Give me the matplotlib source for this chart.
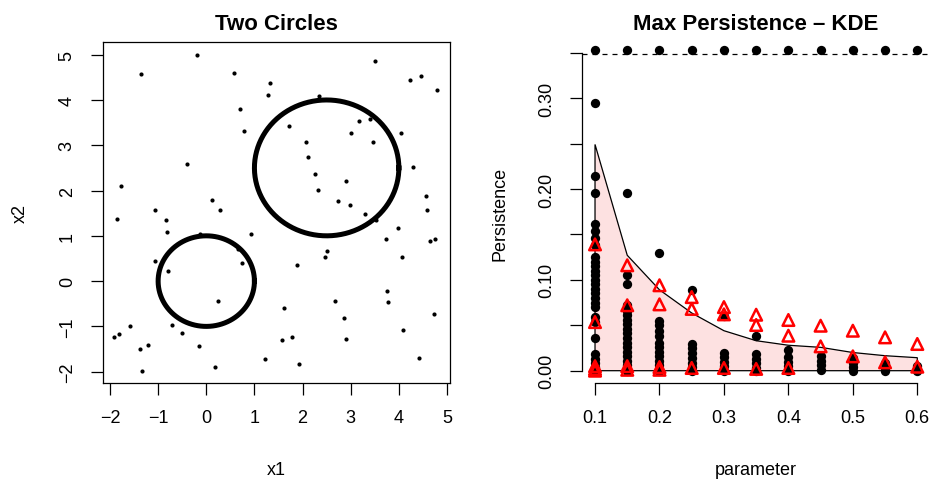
import matplotlib
matplotlib.use("Agg")
import matplotlib.pyplot as plt
import numpy as np

plt.rcParams['font.family'] = ['Liberation Sans', 'DejaVu Sans']

# --- левая панель: облако точек + две окружности
pts_x = [-0.19, -1.35, 0.58, 3.51, 1.33, 1.28, 2.34, 4.23, 4.47, 4.80,
         0.71, 0.79, 1.71, 3.18, 3.41, 3.01, 4.04, 3.46, 2.07, 2.12,
         -0.41, 4.30, 2.25, 2.90, 2.32, -1.77, 4.56, 0.11, 2.73, 2.99,
         0.29, -1.07, 4.58, 3.30, -1.85, 3.53, -0.84, -0.81, 3.99, -0.14,
         0.92, 3.74, 4.64, 4.76, 2.51, 2.46, 4.06, 0.65, -1.07, 0.74,
         1.89, -0.79, 3.75, 0.25, 3.77, 2.68, 1.62, 4.74, 2.86, -1.58,
         -0.72, 4.08, -0.50, -1.91, -1.81, -1.20, -0.16, 1.79, 1.58, 2.91,
         -1.37, 4.42, 1.21, -1.33, 0.19, 1.93]
pts_y = [5.00, 4.58, 4.60, 4.87, 4.38, 4.12, 4.09, 4.43, 4.54, 4.23,
         3.79, 3.32, 3.43, 3.54, 3.57, 3.28, 3.26, 3.08, 3.08, 2.75,
         2.59, 2.53, 2.37, 2.20, 2.02, 2.09, 1.87, 1.78, 1.76, 1.67,
         1.58, 1.58, 1.58, 1.49, 1.38, 1.36, 1.36, 1.09, 1.18, 1.05,
         1.03, 0.92, 0.89, 0.92, 0.67, 0.54, 0.54, 0.72, 0.45, 0.41,
         0.36, 0.23, -0.21, -0.45, -0.47, -0.45, -0.59, -0.72, -0.81, -1.00,
         -0.98, -1.07, -1.14, -1.23, -1.16, -1.40, -1.43, -1.23, -1.29, -1.27,
         -1.49, -1.69, -1.71, -1.99, -1.89, -1.82]
circ_cx = [0.0, 2.5]
circ_cy = [0.0, 2.5]
circ_r = [1.0, 1.5]

# --- правая панель: maxPersistence
params = [0.1, 0.15, 0.2, 0.25, 0.3, 0.35, 0.4, 0.45, 0.5, 0.55, 0.6]
band_upper = [0.249, 0.127, 0.089, 0.0635, 0.044, 0.033, 0.028, 0.0257, 0.020, 0.0165, 0.0143]
inf_level = 0.353     # точки "бесконечной" персистентности
inf_line = 0.3485
black_pts = [
    [0.295, 0.214, 0.196, 0.161, 0.154, 0.146, 0.138, 0.125, 0.120, 0.115, 0.110, 0.105,
     0.100, 0.095, 0.090, 0.085, 0.080, 0.075, 0.070, 0.059, 0.054, 0.036, 0.018, 0.013,
     0.008, 0.004, 0.0],
    [0.196, 0.105, 0.095, 0.072, 0.066, 0.061, 0.056, 0.051, 0.046, 0.041, 0.036, 0.031,
     0.026, 0.021, 0.016, 0.011, 0.006, 0.002, 0.0],
    [0.129, 0.055, 0.050, 0.044, 0.038, 0.031, 0.026, 0.021, 0.016, 0.011, 0.006, 0.002, 0.0],
    [0.089, 0.029, 0.025, 0.020, 0.014, 0.009, 0.004, 0.0],
    [0.0605, 0.020, 0.015, 0.010, 0.005, 0.0],
    [0.0378, 0.018, 0.013, 0.008, 0.003, 0.0],
    [0.0228, 0.015, 0.010, 0.005, 0.0],
    [0.016, 0.011, 0.006, 0.001],
    [0.014, 0.009, 0.004, 0.0],
    [0.008, 0.003, 0.0],
    [0.005, 0.0],
]
red_pts = [
    [0.139, 0.0535, 0.005, 0.002, 0.0],
    [0.116, 0.072, 0.005, 0.001],
    [0.094, 0.073, 0.004, 0.001],
    [0.081, 0.068, 0.003],
    [0.070, 0.062, 0.003],
    [0.0616, 0.0503, 0.002],
    [0.0558, 0.0385, 0.003],
    [0.0495, 0.0268],
    [0.044, 0.0158],
    [0.0367, 0.0092],
    [0.0294, 0.0044],
]

W, H = 932, 481
def box(l, t, r, b):
    return [l / W, 1 - b / H, (r - l) / W, (b - t) / H]

fig = plt.figure(figsize=(W / 100, H / 100), dpi=100)
ax1 = fig.add_axes(box(103, 43, 450, 384))
ax2 = fig.add_axes(box(582, 43, 930, 384))

fs = 13
for ax in (ax1, ax2):
    ax.tick_params(direction='out', length=8.6, width=0.9, labelsize=fs, color='black')
    ax.tick_params(axis='x', pad=10)
    ax.tick_params(axis='y', pad=11)
    for sp in ax.spines.values():
        sp.set_linewidth(0.9)

# левая
ax1.scatter(pts_x, pts_y, s=9, c='black', linewidths=0)
th = np.linspace(0, 2 * np.pi, 400)
for cx, cy, r in zip(circ_cx, circ_cy, circ_r):
    ax1.plot(cx + r * np.cos(th), cy + r * np.sin(th), color='black', lw=3.6)
ax1.set_xlim(-2.145, 5.062)
ax1.set_ylim(-2.25, 5.28)
ax1.set_xticks(range(-2, 6))
ax1.set_yticks(range(-2, 6))
for lab in ax1.get_yticklabels():
    lab.set_rotation(90)
    lab.set_va('center')

# правая
ax2.fill(params + [params[-1], params[0]], band_upper + [0, 0],
         facecolor='#fde1e1', edgecolor='black', lw=0.9, zorder=1)
ax2.plot([0.0798, 0.6197], [inf_line, inf_line], color='black', lw=0.9, ls=(0, (4, 4)), zorder=2)
ax2.scatter(params, [inf_level] * len(params), s=45, c='black', linewidths=0, zorder=3)
for p, ys in zip(params, black_pts):
    ax2.scatter([p] * len(ys), ys, s=45, c='black', linewidths=0, zorder=3)
for p, ys in zip(params, red_pts):
    ax2.scatter([p] * len(ys), ys, s=70, marker='^', facecolors='none',
                edgecolors='red', linewidths=1.8, zorder=4)
ax2.set_xlim(0.0798, 0.6197)
ax2.set_ylim(-0.01354, 0.3617)
ax2.set_xticks([0.1, 0.2, 0.3, 0.4, 0.5, 0.6])
ax2.set_xticklabels(['0.1', '0.2', '0.3', '0.4', '0.5', '0.6'])
yt = np.arange(0, 0.36, 0.05)
ax2.set_yticks(yt)
ax2.set_yticklabels(['0.00', '', '0.10', '', '0.20', '', '0.30', ''])
for lab in ax2.get_yticklabels():
    lab.set_rotation(90)
    lab.set_va('center')
ax2.spines['top'].set_visible(False)
ax2.spines['right'].set_visible(False)
ax2.spines['left'].set_bounds(0, 0.35)
ax2.spines['bottom'].set_bounds(0.1, 0.6)

# подписи
def ftext(x, y, s, **kw):
    fig.text(x / W, 1 - y / H, s, **kw)

ftext(276.5, 30, 'Two Circles', ha='center', va='baseline', fontsize=16, fontweight='bold')
ftext(756, 30, 'Max Persistence \u2013 KDE', ha='center', va='baseline', fontsize=16, fontweight='bold')
ftext(276.5, 475, 'x1', ha='center', va='baseline', fontsize=fs)
ftext(756, 475, 'parameter', ha='center', va='baseline', fontsize=fs)
ftext(25, 213.5, 'x2', ha='center', va='baseline', rotation=90, rotation_mode='anchor', fontsize=fs)
ftext(505, 213.5, 'Persistence', ha='center', va='baseline', rotation=90, rotation_mode='anchor', fontsize=fs)

fig.savefig('out.png', dpi=100)
